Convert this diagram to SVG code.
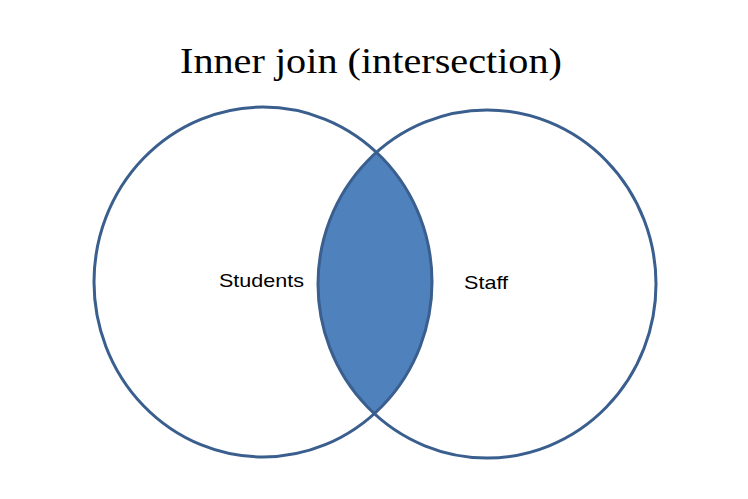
<svg xmlns="http://www.w3.org/2000/svg" width="748" height="499" viewBox="0 0 748 499">
<style>
.c{fill:none;stroke:#3A5F8E;stroke-width:3}
.lens{fill:#4F81BD;stroke:#3A5F8E;stroke-width:3}
.t{font-family:"Liberation Serif","DejaVu Serif",serif;font-size:36px;fill:#000}
.l{font-family:"Liberation Sans",Arial,sans-serif;font-size:19px;fill:#000}
</style>
<defs>
<clipPath id="clipL"><ellipse cx="263" cy="282" rx="169" ry="175"/></clipPath>
</defs>
<rect width="748" height="499" fill="#fff"/>
<text class="t" x="371" y="73" text-anchor="middle" textLength="382" lengthAdjust="spacingAndGlyphs">Inner join (intersection)</text>
<g id="intersection">
<ellipse class="lens" cx="487" cy="284" rx="169" ry="174" clip-path="url(#clipL)" style="stroke:none"/>
</g>
<g id="students">
<ellipse class="c" cx="263" cy="282" rx="169" ry="175"/>
<text class="l" x="261.5" y="287" text-anchor="middle" textLength="85" lengthAdjust="spacingAndGlyphs">Students</text>
</g>
<g id="staff">
<ellipse class="c" cx="487" cy="284" rx="169" ry="174"/>
<text class="l" x="486" y="289" text-anchor="middle" textLength="44" lengthAdjust="spacingAndGlyphs">Staff</text>
</g>
<g id="connectors"></g>
</svg>
